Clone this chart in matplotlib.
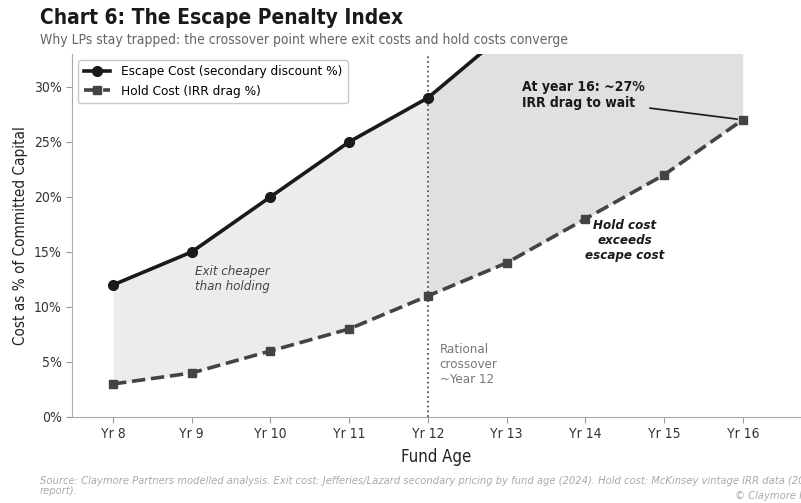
import matplotlib.pyplot as plt
from matplotlib.ticker import FuncFormatter

plt.rcParams["font.family"] = ["DejaVu Sans"]
plt.rcParams["font.stretch"] = "condensed"

# fund age in years and the two cost curves (% of committed capital)
years = [8, 9, 10, 11, 12, 13, 14, 15, 16]
year_labels = ["Yr 8", "Yr 9", "Yr 10", "Yr 11", "Yr 12", "Yr 13", "Yr 14", "Yr 15", "Yr 16"]
escape_cost = [12, 15, 20, 25, 29, 35, 40, 45, 50]
hold_cost = [3, 4, 6, 8, 11, 14, 18, 22, 27]
crossover = 12

fig = plt.figure(figsize=(8.01, 5.03), dpi=100)
ax = fig.add_axes([0.09, 0.171, 0.91, 0.722])

# shaded gap between the curves, lighter before the crossover, darker after
pre = [i for i, y in enumerate(years) if y <= crossover]
post = [i for i, y in enumerate(years) if y >= crossover]
ax.fill_between([years[i] for i in pre], [escape_cost[i] for i in pre],
                [hold_cost[i] for i in pre], color="#ececec", lw=0)
ax.fill_between([years[i] for i in post], [escape_cost[i] for i in post],
                [hold_cost[i] for i in post], color="#e0e0e0", lw=0)

ax.plot(years, escape_cost, color="#1a1a1a", lw=2.6, marker="o", ms=7,
        label="Escape Cost (secondary discount %)", zorder=4)
ax.plot(years, hold_cost, color="#444444", lw=2.6, ls="--", marker="s", ms=6,
        label="Hold Cost (IRR drag %)", zorder=4)

ax.axvline(crossover, color="#555555", ls=":", lw=1.3, zorder=3)

ax.set_xlim(7.48, 16.74)
ax.set_ylim(0, 33)
ax.set_xticks(years)
ax.set_xticklabels(year_labels)
ax.yaxis.set_major_formatter(FuncFormatter(lambda v, p: f"{v:.0f}%"))
ax.tick_params(axis="both", labelsize=10, colors="#333333", length=4)
ax.tick_params(axis="both", color="#999999")
for side in ["top", "right"]:
    ax.spines[side].set_visible(False)
for side in ["left", "bottom"]:
    ax.spines[side].set_color("#aaaaaa")

ax.set_xlabel("Fund Age", fontsize=12, color="#222222", labelpad=5)
ax.set_ylabel("Cost as % of Committed Capital", fontsize=11, color="#222222")
ax.yaxis.set_label_coords(-0.06, 0.5)

leg = ax.legend(loc="upper left", fontsize=9.7, frameon=True, borderaxespad=0.45,
                handlelength=2.0)
leg.get_frame().set_edgecolor("#bbbbbb")

# annotations
ax.text(9.04, 12.5, "Exit cheaper\nthan holding", fontsize=9.5, style="italic",
        color="#444444", va="center", ha="left")
ax.text(12.15, 6.7, "Rational\ncrossover\n~Year 12", fontsize=9.5,
        color="#777777", va="top", ha="left")
ax.text(14.5, 16, "Hold cost\nexceeds\nescape cost", fontsize=9.5, style="italic",
        fontweight="bold", color="#1a1a1a", va="center", ha="center")
ax.annotate("At year 16: ~27%\nIRR drag to wait", xy=(16, 27), xytext=(13.19, 30.6),
            fontsize=10, fontweight="bold", color="#1a1a1a", va="top", ha="left",
            arrowprops=dict(arrowstyle="-", color="#1a1a1a", lw=1.2,
                            shrinkA=2, shrinkB=4, relpos=(1.0, 0.1)))

fig.text(40 / 801, 1 - 18 / 503, "Chart 6: The Escape Penalty Index", fontsize=15,
         fontweight="bold", color="#1a1a1a", va="center")
fig.text(40 / 801, 1 - 40 / 503,
         "Why LPs stay trapped: the crossover point where exit costs and hold costs converge",
         fontsize=10, color="#666666", va="center")
fig.text(40 / 801, 1 - 486 / 503,
         "Source: Claymore Partners modelled analysis. Exit cost: Jefferies/Lazard secondary pricing "
         "by fund age (2024). Hold cost: McKinsey vintage IRR data (2024 Private Markets\nreport).",
         fontsize=8, style="italic", color="#aaaaaa", va="center", linespacing=1.1)
fig.text(735 / 801, 1 - 496 / 503, "© Claymore Partners", fontsize=8, style="italic",
         color="#aaaaaa", va="center")

fig.savefig("out.png", dpi=100)
